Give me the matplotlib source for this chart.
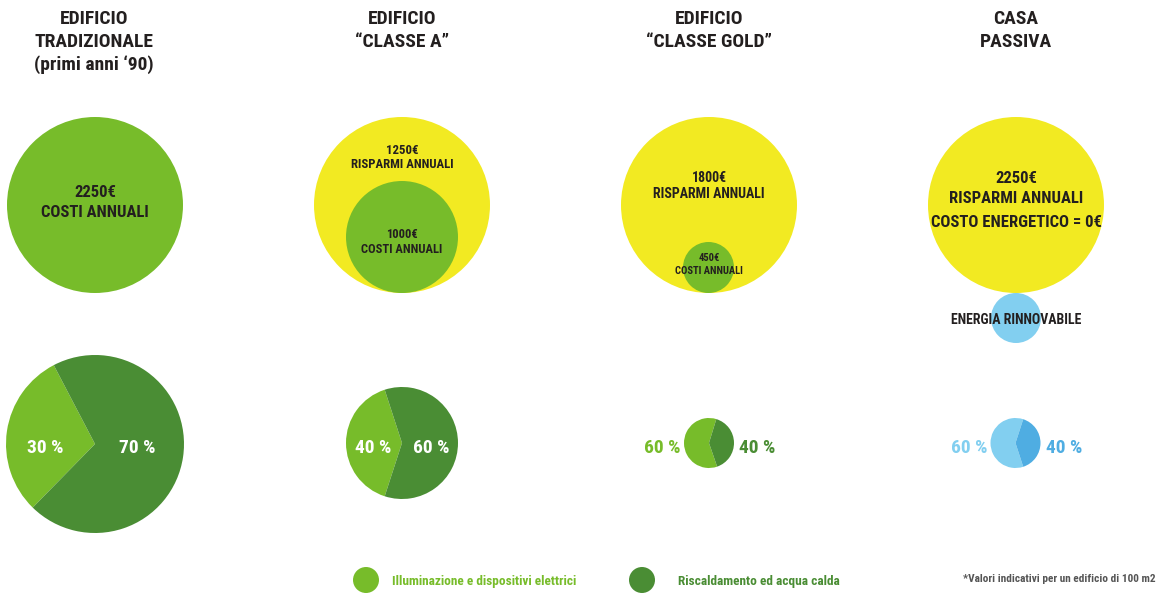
import matplotlib
matplotlib.use('Agg')
import matplotlib.pyplot as plt
from matplotlib.patches import Circle

W, H = 1157, 596

# dati
titoli = ['EDIFICIO\nTRADIZIONALE\n(primi anni ‘90)', 'EDIFICIO\n“CLASSE A”',
          'EDIFICIO\n“CLASSE GOLD”', 'CASA\nPASSIVA']
costi = [2250, 1000, 450, 0]
risparmi = [0, 1250, 1800, 2250]
quota_luce = [30, 40, 60, 60]
quota_caldo = [70, 60, 40, 40]
legenda = ['Illuminazione e dispositivi elettrici', 'Riscaldamento ed acqua calda']
nota = '*Valori indicativi per un edificio di 100 m2'

VERDE = '#77BC2A'
VERDE_SC = '#4A8D34'
GIALLO = '#F2EA22'
AZZURRO = '#82CFF0'
BLU = '#4FADE2'
TESTO = '#231F1F'

plt.rcParams['font.family'] = ['Roboto Condensed', 'DejaVu Sans']

fig = plt.figure(figsize=(W / 100, H / 100), dpi=100)
ax = fig.add_axes([0, 0, 1, 1])


def Y(y):
    return H - y


def txt(x, y, s, size, color=TESTO, ha='center'):
    ax.text(x, Y(y), s, fontsize=size, color=color, ha=ha, va='center_baseline',
            fontweight='bold')


# titoli
for x, t in zip([94, 402, 709, 1016], titoli):
    for i, riga in enumerate(t.split('\n')):
        txt(x, 17 + 23 * i, riga, 14)

# cerchi superiori
ax.add_patch(Circle((95, Y(205)), 88, color=VERDE, lw=0))
txt(95, 191, f'{costi[0]}€', 12)
txt(95, 211, 'COSTI ANNUALI', 12)

ax.add_patch(Circle((402, Y(205)), 88, color=GIALLO, lw=0))
ax.add_patch(Circle((402, Y(237)), 56, color=VERDE, lw=0))
txt(402, 149, f'{risparmi[1]}€', 9.2)
txt(402, 163, 'RISPARMI ANNUALI', 9.2)
txt(402, 233, f'{costi[1]}€', 9)
txt(402, 248, 'COSTI ANNUALI', 9)

ax.add_patch(Circle((709, Y(205)), 88, color=GIALLO, lw=0))
ax.add_patch(Circle((708.5, Y(267.5)), 25.5, color=VERDE, lw=0))
txt(709, 177, f'{risparmi[2]}€', 10)
txt(709, 193, 'RISPARMI ANNUALI', 10)
txt(709, 257, f'{costi[2]}€', 7.6)
txt(709, 270, 'COSTI ANNUALI', 7.6)

ax.add_patch(Circle((1016, Y(205)), 88, color=GIALLO, lw=0))
ax.add_patch(Circle((1016, Y(318)), 25, color=AZZURRO, lw=0))
txt(1016, 177, f'{risparmi[3]}€', 12)
txt(1016, 197, 'RISPARMI ANNUALI', 12)
txt(1016, 221, f'COSTO ENERGETICO = {costi[3]}€', 12)
txt(1016, 319, 'ENERGIA RINNOVABILE', 10)

# torte
centri = [(95, 444), (402, 443), (709, 443), (1015.5, 443)]
raggi = [89, 56, 25, 25]
inizio = [117.6, 108, 73, 72]
colori = [(VERDE, VERDE_SC)] * 3 + [(AZZURRO, BLU)]
for (cx, cy), r, a0, c, a, b in zip(centri, raggi, inizio, colori, quota_luce, quota_caldo):
    ax.pie([a, b], colors=c, startangle=a0, counterclock=True, radius=r,
           center=(cx, Y(cy)), wedgeprops=dict(linewidth=0))

txt(45, 446, f'{quota_luce[0]} %', 14, 'white')
txt(137, 446, f'{quota_caldo[0]} %', 14, 'white')
txt(373, 446, f'{quota_luce[1]} %', 14, 'white')
txt(431, 446, f'{quota_caldo[1]} %', 14, 'white')
txt(662, 446, f'{quota_luce[2]} %', 14, VERDE)
txt(757, 446, f'{quota_caldo[2]} %', 14, VERDE_SC)
txt(969, 446, f'{quota_luce[3]} %', 14, AZZURRO)
txt(1064, 446, f'{quota_caldo[3]} %', 14, BLU)

# legenda
ax.add_patch(Circle((366, Y(580)), 13, color=VERDE, lw=0))
txt(392, 580, legenda[0], 9.6, VERDE, ha='left')
ax.add_patch(Circle((642, Y(580)), 13, color=VERDE_SC, lw=0))
txt(678, 580, legenda[1], 9.6, VERDE_SC, ha='left')

ax.text(1156, Y(578), nota, fontsize=8.1, color='#555555', ha='right',
        va='center_baseline', fontweight='bold')

ax.set_xlim(0, W)
ax.set_ylim(0, H)
ax.set_aspect('auto')
ax.axis('off')

fig.savefig('out.png', dpi=100, facecolor='white')
